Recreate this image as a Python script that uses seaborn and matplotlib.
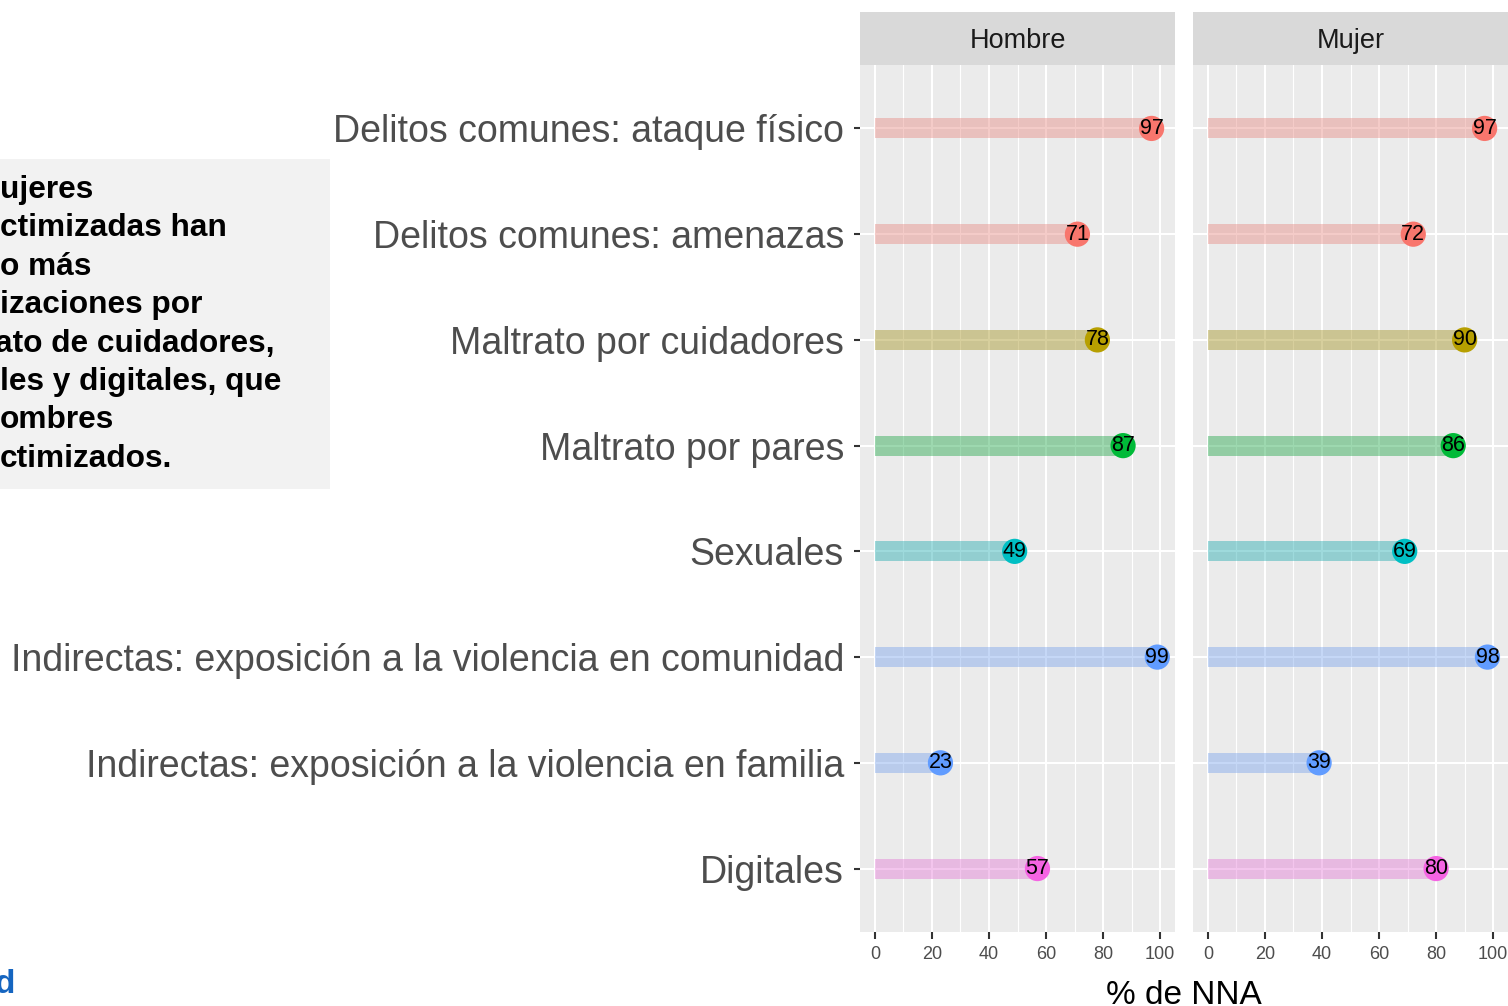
import pandas as pd
import seaborn as sns
import matplotlib.pyplot as plt

categorias = [
    "Delitos comunes: ataque físico",
    "Delitos comunes: amenazas",
    "Maltrato por cuidadores",
    "Maltrato por pares",
    "Sexuales",
    "Indirectas: exposición a la violencia en comunidad",
    "Indirectas: exposición a la violencia en familia",
    "Digitales",
]
grupos = [
    "Delitos comunes", "Delitos comunes", "Maltrato por cuidadores",
    "Maltrato por pares", "Sexuales", "Indirectas", "Indirectas", "Digitales",
]
hombre = [97, 71, 78, 87, 49, 99, 23, 57]
mujer = [97, 72, 90, 86, 69, 98, 39, 80]
paneles = ["Hombre", "Mujer"]
colores = {
    "Delitos comunes": "#F8766D",
    "Maltrato por cuidadores": "#B79F00",
    "Maltrato por pares": "#00BA38",
    "Sexuales": "#00BFC4",
    "Indirectas": "#619CFF",
    "Digitales": "#F564E3",
}
xticks = [0, 20, 40, 60, 80, 100]
xminor = [10, 30, 50, 70, 90]
lineas_nota = ["ujeres", "ctimizadas han", "o más", "izaciones por",
               "ato de cuidadores,", "les y digitales, que", "ombres",
               "ctimizados."]

W, H = 1508, 1006


def fx(px):
    return px / W


def fy(py):
    return 1 - py / H


def main():
    plt.rcParams['font.family'] = ['Liberation Sans', 'DejaVu Sans']
    fig = plt.figure(figsize=(W / 100, H / 100), dpi=100)

    # grey note box on the left (cropped in the original)
    fig.patches.append(plt.Rectangle((0, fy(489)), fx(330), (489 - 159) / H,
                                     transform=fig.transFigure,
                                     facecolor="#F2F2F2", edgecolor="none"))
    for i, linea in enumerate(lineas_nota):
        x0 = -5 if linea.startswith("ato") else 0
        fig.text(fx(x0), fy(198 + 38.4 * i), linea, fontsize=22.8,
                 fontweight="bold", color="black", va="baseline", ha="left")
    fig.text(fx(15), fy(993), "d", fontsize=24, fontweight="bold",
             color="#1565C0", ha="right", va="baseline")

    for k, (panel, valores) in enumerate(zip(paneles, [hombre, mujer])):
        left = 860 if k == 0 else 1193
        ax = fig.add_axes([fx(left), fy(932), 315 / W, (932 - 65) / H])
        df = pd.DataFrame({"categoria": categorias, "grupo": grupos,
                           "valor": valores})
        ax.set_facecolor("#EBEBEB")
        ax.set_axisbelow(True)
        sns.barplot(data=df, x="valor", y="categoria", hue="grupo",
                    palette=colores, orient="h", width=0.19, alpha=0.42,
                    dodge=False, legend=False, ax=ax, linewidth=0)
        sns.scatterplot(data=df, x="valor", y="categoria", hue="grupo",
                        palette=colores, s=330, linewidth=0, legend=False,
                        ax=ax, zorder=3)
        for i, v in enumerate(valores):
            ax.text(v, i, str(v), ha="center", va="center", fontsize=15.5,
                    color="black", zorder=4)
        ax.set_xlim(-5.2, 105.2)
        ax.set_ylim(len(categorias) - 0.4, -0.6)
        ax.set_xticks(xticks)
        ax.set_xticks(xminor, minor=True)
        ax.grid(True, which="major", color="white", linewidth=1.5)
        ax.grid(True, which="minor", axis="x", color="white", linewidth=0.8)
        for s in ax.spines.values():
            s.set_visible(False)
        ax.tick_params(axis="x", which="major", length=5, width=1.5,
                       color="#333333", labelsize=13, labelcolor="#4D4D4D",
                       pad=5)
        ax.tick_params(axis="x", which="minor", length=0)
        if k == 0:
            ax.tick_params(axis="y", length=4, width=1.5, color="#333333",
                           labelsize=27, labelcolor="#4D4D4D", pad=7.5)
        else:
            ax.tick_params(axis="y", length=0, labelleft=False)
        ax.set_xlabel("")
        ax.set_ylabel("")

        strip = fig.add_axes([fx(left), fy(65), 315 / W, 53 / H])
        strip.set_facecolor("#D9D9D9")
        strip.set_xticks([])
        strip.set_yticks([])
        for s in strip.spines.values():
            s.set_visible(False)
        strip.text(0.5, 0.45, panel, ha="center", va="center", fontsize=19.5,
                   color="#1A1A1A", transform=strip.transAxes)

    fig.text(fx(1184), fy(1004), "% de NNA", fontsize=24, color="black",
             ha="center", va="baseline")

    fig.savefig("out.png", dpi=100)


if __name__ == "__main__":
    main()
